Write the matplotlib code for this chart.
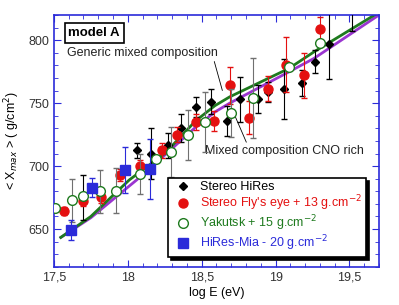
import matplotlib
matplotlib.use("Agg")
import matplotlib.pyplot as plt
from matplotlib.lines import Line2D
from matplotlib.ticker import MultipleLocator, FuncFormatter

plt.rcParams['font.family'] = ['Liberation Sans', 'DejaVu Sans']

# Stereo HiRes
hr_x = [17.70, 18.06, 18.16, 18.27, 18.36, 18.46, 18.565, 18.67, 18.76, 18.88,
        18.95, 19.06, 19.18, 19.27, 19.36, 19.52]
hr_y = [675, 712.5, 710, 716.5, 730, 747, 751, 736, 753, 753,
        759, 761, 766, 783, 797, 825]
hr_e = [18, 6, 20, 10, 11, 8, 10, 12, 18, 11, 8, 24, 10, 9, 28, 18]

# Stereo Fly's eye + 13
fe_x = [17.57, 17.70, 17.82, 17.95, 18.08, 18.23, 18.33, 18.46, 18.58, 18.69,
        18.82, 18.95, 19.07, 19.19, 19.30]
fe_y = [664.5, 672, 675.5, 693, 700, 712.5, 725, 735, 736, 764,
        738.5, 761.5, 780.5, 772, 808.5]
fe_e = [3, 4, 5, 5, 5, 6, 6, 6, 8, 15, 13, 10, 22, 18, 10]

# Yakutsk + 15
yk_x = [17.51, 17.62, 17.70, 17.81, 17.92, 18.08, 18.19, 18.295, 18.41, 18.52,
        18.70, 18.85, 19.09, 19.30]
yk_y = [667, 673, 676, 680, 680.5, 693.5, 706, 711, 724.5, 735,
        742, 754, 779, 798]
yk_e = [0, 17, 0, 17, 18, 16, 0, 20, 20, 24, 19, 32, 0, 0]

# HiRes-Mia - 20
hm_x = [17.615, 17.76, 17.98, 18.15]
hm_y = [649, 683, 697, 697.5]
hm_e = [8, 7.5, 18, 24]

# model curves
gen_x = [17.547, 17.75, 18.01, 18.25, 18.46, 18.59, 18.69, 19.09, 19.26, 19.67]
gen_y = [643.4, 660, 689, 710, 736, 748, 755, 777.5, 790.7, 820]
cno_x = [17.547, 17.75, 18.06, 18.25, 18.46, 18.59, 18.69, 19.09, 19.26, 19.70]
cno_y = [643.4, 659, 689, 708.7, 731, 743, 750, 774.8, 785.5, 820]

blue = '#2b2bd9'
red = '#e41010'
green = '#1e7a1e'
purple = '#9a35d0'

fig = plt.figure(figsize=(3.99, 3.05), dpi=100)
ax = fig.add_axes([0.135, 0.125, 0.815, 0.826])

ax.plot(cno_x, cno_y, color=purple, lw=2, zorder=2)
ax.plot(gen_x, gen_y, color=green, lw=2, zorder=2)

ax.errorbar(hr_x, hr_y, yerr=hr_e, fmt='D', color='black', ms=4.5,
            ecolor='black', elinewidth=0.8, capsize=2.5, zorder=3)
ax.errorbar(fe_x, fe_y, yerr=fe_e, fmt='o', color=red, ms=6.5,
            ecolor=red, elinewidth=0.8, capsize=2.5, zorder=4)
ax.errorbar(yk_x, yk_y, yerr=yk_e, fmt='o', mfc='white', mec=green, mew=1,
            ms=7, ecolor='#707070', elinewidth=0.8, capsize=2.5, zorder=5)
ax.errorbar(hm_x, hm_y, yerr=hm_e, fmt='s', color=blue, ms=6.5,
            ecolor=blue, elinewidth=0.8, capsize=2.5, zorder=6)

ax.set_xlim(17.5, 19.7)
ax.set_ylim(620, 820)
ax.xaxis.set_major_locator(MultipleLocator(0.5))
ax.xaxis.set_minor_locator(MultipleLocator(0.1))
ax.yaxis.set_major_locator(MultipleLocator(50))
ax.yaxis.set_minor_locator(MultipleLocator(10))
ax.xaxis.set_major_formatter(FuncFormatter(lambda v, p: ('%g' % v).replace('.', ',')))
ax.tick_params(which='both', direction='in', top=True, right=True, color=blue,
               labelsize=9, labelcolor='#333333')
ax.tick_params(which='major', length=5)
ax.tick_params(which='minor', length=3)
for s in ax.spines.values():
    s.set_color(blue)
    s.set_linewidth(1.2)

ax.set_xlabel('log E (eV)', fontsize=9, labelpad=2)
ax.set_ylabel('< X$_{max}$ > ( g/cm$^2$)', fontsize=9, labelpad=4)

ax.text(0.045, 0.93, 'model A', transform=ax.transAxes, fontsize=9.5,
        fontweight='bold', va='center', ha='left',
        bbox=dict(boxstyle='square,pad=0.3', fc='white', ec='black', lw=1.2))

ax.annotate('Generic mixed composition', xy=(18.64, 760), xytext=(17.59, 790),
            fontsize=9, va='center', color='#222222',
            arrowprops=dict(arrowstyle='-', color='black', lw=0.6,
                            shrinkA=0, shrinkB=0, relpos=(0.97, 0.0)))
ax.annotate('Mixed composition CNO rich', xy=(18.71, 744), xytext=(18.52, 712),
            fontsize=9, va='center', color='#222222',
            arrowprops=dict(arrowstyle='-', color='black', lw=0.6,
                            shrinkA=0, shrinkB=0, relpos=(0.27, 1.0)))

handles = [
    Line2D([], [], ls='none', marker='D', color='black', ms=4.5),
    Line2D([], [], ls='none', marker='o', color=red, ms=6.5),
    Line2D([], [], ls='none', marker='o', mfc='white', mec=green, ms=7),
    Line2D([], [], ls='none', marker='s', color=blue, ms=6.5),
]
labels = ['Stereo HiRes',
          "Stereo Fly's eye + 13 g.cm$^{-2}$",
          'Yakutsk + 15 g.cm$^{-2}$',
          'HiRes-Mia - 20 g.cm$^{-2}$']
leg = ax.legend(handles, labels, loc='lower right', bbox_to_anchor=(0.96, 0.04),
                fontsize=9, frameon=True, fancybox=False, borderaxespad=0,
                handletextpad=0.5, labelspacing=0.02, borderpad=0.3,
                handlelength=1.8,
                shadow={'color': 'black', 'alpha': 1})
leg.get_frame().set_edgecolor('black')
leg.get_frame().set_linewidth(1.2)
leg.get_frame().set_alpha(1)
for t, c in zip(leg.get_texts(), ['black', red, green, blue]):
    t.set_color(c)

fig.savefig('out.png', dpi=100)
